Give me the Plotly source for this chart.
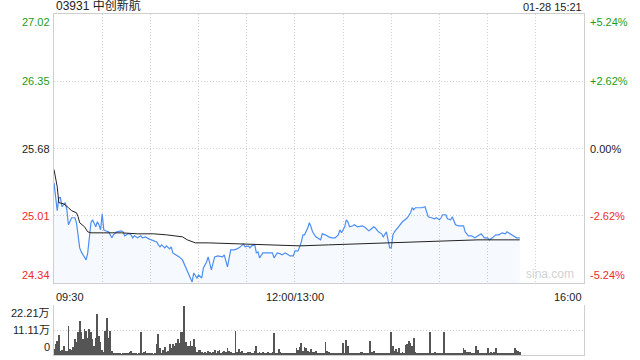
import plotly.graph_objects as go

# ---------------- data ----------------
title_text = "03931 中创新航"
date_text = "01-28 15:21"
prev_close = 25.68

price_ticks = [27.02, 26.35, 25.68, 25.01, 24.34]
pct_ticks = ["+5.24%", "+2.62%", "0.00%", "-2.62%", "-5.24%"]
vol_ticks = [22.21, 11.11, 0]
vol_tick_text = ["22.21万", "11.11万", "0"]
time_labels = ["09:30", "12:00/13:00", "16:00"]
time_label_pos = [0, 150, 330]   # trading minutes since 09:30

# trading minutes since 09:30 (lunch break removed) and last price
price_t = [0, 2, 3, 4, 5, 6, 7, 8, 9, 11,
           13, 14, 15, 16, 17, 20, 21, 22, 23, 24,
           25, 26, 27, 28, 29, 30, 31, 32, 34, 36,
           37, 39, 42, 43, 44, 46, 47, 48, 49, 50,
           52, 54, 55, 57, 59, 61, 64, 65, 66, 67,
           69, 70, 72, 73, 74, 75, 76, 78, 80, 83,
           85, 86, 87, 89, 90, 92, 93, 95, 96, 97,
           98, 100, 102, 105, 106, 108, 109, 110, 112, 114,
           116, 118, 119, 121, 122, 123, 125, 126, 127, 128,
           130, 133, 136, 137, 139, 141, 142, 144, 147, 149,
           150, 152, 154, 155, 156, 158, 159, 160, 161, 163,
           164, 166, 167, 169, 171, 173, 175, 177, 178, 179,
           181, 182, 183, 184, 186, 187, 189, 192, 194, 196,
           197, 199, 200, 202, 204, 205, 207, 208, 209, 210,
           211, 212, 214, 215, 216, 217, 220, 222, 223, 224,
           225, 227, 229, 231, 232, 233, 235, 237, 238, 240,
           241, 242, 244, 245, 247, 248, 250, 252, 255, 256,
           258, 260, 262, 264, 266, 268, 270, 271, 273, 275,
           277, 279, 281, 282, 284, 286, 288, 290]
price_v = [25.34, 25.06, 25.19, 25.19, 25.10, 25.12, 25.14, 25.07, 24.92, 24.99,
           24.99, 24.94, 24.80, 24.69, 24.65, 24.57, 24.64, 24.77, 24.94, 24.97,
           24.94, 24.90, 24.95, 24.92, 24.87, 25.03, 24.87, 24.86, 24.85, 24.79,
           24.82, 24.85, 24.86, 24.85, 24.81, 24.83, 24.83, 24.82, 24.79, 24.81,
           24.79, 24.81, 24.79, 24.80, 24.78, 24.77, 24.75, 24.72, 24.70, 24.72,
           24.69, 24.71, 24.68, 24.70, 24.64, 24.63, 24.62, 24.60, 24.57, 24.45,
           24.39, 24.35, 24.44, 24.39, 24.42, 24.39, 24.49, 24.55, 24.60, 24.54,
           24.47, 24.60, 24.61, 24.60, 24.62, 24.50, 24.57, 24.67, 24.67, 24.68,
           24.70, 24.73, 24.70, 24.71, 24.69, 24.71, 24.72, 24.64, 24.65, 24.59,
           24.64, 24.64, 24.64, 24.59, 24.64, 24.63, 24.62, 24.64, 24.61, 24.61,
           24.66, 24.66, 24.75, 24.82, 24.82, 24.89, 24.94, 24.90, 24.85, 24.80,
           24.79, 24.77, 24.83, 24.82, 24.80, 24.79, 24.79, 24.82, 24.87, 24.84,
           24.90, 24.97, 24.95, 24.90, 24.91, 24.92, 24.90, 24.91, 24.89, 24.86,
           24.87, 24.90, 24.89, 24.85, 24.83, 24.80, 24.85, 24.77, 24.69, 24.69,
           24.82, 24.85, 24.89, 24.92, 24.94, 24.95, 24.99, 25.04, 25.09, 25.07,
           25.09, 25.09, 25.09, 25.10, 25.04, 25.00, 24.99, 24.98, 24.99, 24.97,
           24.99, 25.02, 25.02, 24.98, 24.97, 25.00, 24.92, 24.91, 24.91, 24.85,
           24.81, 24.81, 24.79, 24.81, 24.83, 24.79, 24.79, 24.77, 24.79, 24.82,
           24.82, 24.84, 24.83, 24.85, 24.83, 24.81, 24.79, 24.79]

# average price line
avg_t = [0, 2, 3, 6, 9, 11, 14, 15, 16, 19, 21, 23, 31, 42, 52, 62,
         70, 78, 80, 83, 88, 96, 117, 137, 153, 171, 192, 213, 225, 242, 264, 290]
avg_v = [25.47, 25.30, 25.14, 25.13, 25.09, 25.06, 25.04, 25.00, 24.94, 24.90,
         24.85, 24.84, 24.84, 24.84, 24.83, 24.83, 24.82, 24.80, 24.80, 24.77,
         24.74, 24.74, 24.73, 24.72, 24.71, 24.72, 24.73, 24.74, 24.75, 24.76,
         24.77, 24.77]

# per-minute volume (万)
volume = [2.7, 4.9, 6.4, 9.0, 1.9, 2.2, 4.1, 1.6, 1.9, 13.0,
          2.7, 2.2, 3.4, 7.1, 5.6, 10.1, 15.2, 10.1, 7.1, 11.5,
          10.8, 7.8, 11.5, 10.1, 7.1, 4.1, 7.8, 18.2, 8.6, 5.6,
          2.2, 1.2, 10.8, 16.7, 7.8, 10.8, 1.9, 0.9, 0.6, 0.8,
          0.5, 1.0, 0.4, 0.7, 0.9, 0.5, 0.6, 1.2, 1.9, 0.8,
          0.5, 0.9, 0.4, 0.6, 10.1, 0.8, 1.5, 1.9, 0.6, 0.9,
          0.5, 0.9, 0.4, 0.8, 4.9, 9.3, 3.1, 1.0, 2.2, 3.4,
          1.2, 1.9, 4.9, 3.1, 4.9, 4.1, 5.2, 7.1, 5.2, 10.1,
          10.1, 21.9, 5.6, 4.1, 4.1, 6.4, 4.1, 7.1, 3.4, 1.5,
          2.2, 2.2, 1.2, 0.8, 1.5, 0.8, 1.9, 1.2, 1.0, 1.5,
          2.2, 0.8, 1.8, 2.4, 0.6, 1.5, 1.9, 1.2, 3.1, 2.0,
          1.5, 0.9, 0.6, 10.8, 1.2, 2.7, 1.2, 1.8, 0.9, 0.6,
          0.8, 1.2, 1.5, 0.6, 1.0, 1.9, 4.1, 0.8, 1.2, 0.6,
          1.5, 0.7, 0.9, 1.2, 0.6, 0.8, 1.2, 9.6, 0.8, 0.6,
          2.7, 1.5, 1.0, 0.6, 0.7, 0.5, 0.6, 0.8, 0.5, 0.7,
          0.6, 3.1, 2.2, 3.4, 5.2, 2.0, 3.7, 3.1, 2.0, 1.5,
          2.7, 1.5, 1.2, 1.8, 1.0, 0.6, 0.8, 0.9, 0.7, 5.9,
          2.0, 1.5, 0.6, 0.5, 0.6, 0.7, 0.5, 0.6, 0.6, 0.5,
          5.2, 1.0, 6.7, 4.1, 1.0, 0.8, 1.0, 0.9, 0.6, 0.5,
          0.6, 1.5, 1.2, 0.6, 0.5, 0.5, 0.9, 6.4, 1.2, 1.8,
          0.6, 0.5, 0.5, 0.6, 0.5, 0.6, 0.5, 0.5, 0.5, 0.6,
          10.4, 4.1, 1.8, 2.7, 1.5, 3.1, 0.6, 1.2, 0.8, 4.6,
          4.9, 6.4, 5.2, 4.1, 7.8, 1.2, 1.0, 1.0, 0.9, 1.0,
          0.7, 0.6, 0.8, 0.5, 10.4, 0.6, 0.9, 1.5, 0.6, 0.5,
          0.6, 0.5, 0.5, 10.1, 0.6, 0.5, 0.9, 1.0, 0.6, 0.5,
          0.6, 0.5, 0.8, 0.6, 0.5, 3.1, 2.2, 1.5, 1.2, 1.5,
          0.6, 0.5, 0.5, 4.1, 2.2, 0.6, 0.5, 0.6, 0.8, 0.6,
          3.1, 0.9, 1.5, 0.7, 1.2, 3.1, 0.6, 1.0, 0.8, 0.9,
          0.6, 0.8, 0.5, 0.6, 0.7, 0.5, 0.6, 3.1, 2.2, 1.9,
          1.2]
volume_t = list(range(len(volume)))

# ---------------- styling ----------------
GREEN = "#1a9e1a"
RED = "#ee2b2b"
DARK = "#222222"
GRID = "#cfcfcf"
GRIDDASH = "1px,2px"
FONT = "Liberation Sans, Arial, Noto Sans CJK SC, sans-serif"


def tick_color(v):
    if abs(v - prev_close) < 1e-6:
        return DARK
    return GREEN if v > prev_close else RED


fig = go.Figure()

fig.add_trace(go.Scatter(
    x=price_t, y=price_v, mode="lines",
    line=dict(color="#4d8ef2", width=1.2),
    fill="tozeroy", fillcolor="rgba(80,140,235,0.05)",
    xaxis="x", yaxis="y", hoverinfo="skip", showlegend=False))

fig.add_trace(go.Scatter(
    x=avg_t, y=avg_v, mode="lines",
    line=dict(color="#222222", width=1),
    xaxis="x", yaxis="y", hoverinfo="skip", showlegend=False))

fig.add_trace(go.Bar(
    x=volume_t, y=volume, width=0.5,
    marker=dict(color="#555555", line=dict(width=0)),
    xaxis="x2", yaxis="y2", hoverinfo="skip", showlegend=False))

annotations = []
n = len(price_ticks)
for i, (v, pt) in enumerate(zip(price_ticks, pct_ticks)):
    anc = "top" if i == 0 else ("bottom" if i == n - 1 else "middle")
    c = tick_color(v)
    annotations.append(dict(text=f"{v:.2f}", xref="paper", x=0, xanchor="right",
                            xshift=-2, yref="y", y=v, yanchor=anc,
                            showarrow=False, font=dict(size=11, color=c, family=FONT)))
    annotations.append(dict(text=pt, xref="paper", x=1, xanchor="left",
                            xshift=4, yref="y", y=v, yanchor=anc,
                            showarrow=False, font=dict(size=11, color=c, family=FONT)))

for i, (v, t) in enumerate(zip(vol_ticks, vol_tick_text)):
    anc = "top" if i == 0 else ("bottom" if i == len(vol_ticks) - 1 else "middle")
    annotations.append(dict(text=t, xref="paper", x=0, xanchor="right",
                            xshift=-2, yref="y2", y=v, yanchor=anc,
                            showarrow=False, font=dict(size=11, color=DARK, family=FONT)))

xanchors = ["left", "center", "right"]
for lbl, pos, xa in zip(time_labels, time_label_pos, xanchors):
    annotations.append(dict(text=lbl, xref="x", x=pos, xanchor=xa,
                            yref="paper", y=0.170, yanchor="middle",
                            showarrow=False, font=dict(size=11, color=DARK, family=FONT)))

annotations.append(dict(text=title_text, xref="paper", x=0, xanchor="left",
                        yref="paper", y=1.0, yanchor="bottom", yshift=-1,
                        showarrow=False, font=dict(size=12, color=DARK, family=FONT)))
annotations.append(dict(text=date_text, xref="paper", x=1, xanchor="right",
                        yref="paper", y=1.0, yanchor="bottom", yshift=-1,
                        showarrow=False, font=dict(size=11, color=DARK, family=FONT)))
annotations.append(dict(text="sina.com", xref="paper", x=0.985, xanchor="right",
                        yref="y", y=24.34, yanchor="bottom",
                        showarrow=False, font=dict(size=12, color="#d2d2d2", family=FONT)))

grid_x = [30 * k for k in range(1, 11)]

fig.update_layout(
    width=640, height=360,
    margin=dict(l=54, r=56, t=14, b=5),
    paper_bgcolor="white", plot_bgcolor="white",
    font=dict(family=FONT),
    bargap=0,
    annotations=annotations,
    xaxis=dict(domain=[0, 1], range=[0, 330], anchor="y",
               tickvals=grid_x, showticklabels=False, ticks="",
               showgrid=True, gridcolor=GRID, griddash=GRIDDASH, gridwidth=1,
               showline=True, mirror=True, linecolor=GRID, linewidth=1,
               zeroline=False, fixedrange=True),
    yaxis=dict(domain=[0.2111, 1], range=[24.34, 27.02], anchor="x",
               tickvals=price_ticks, showticklabels=False, ticks="",
               showgrid=True, gridcolor=GRID, griddash=GRIDDASH, gridwidth=1,
               showline=True, mirror=True, linecolor=GRID, linewidth=1,
               zeroline=False, fixedrange=True),
    xaxis2=dict(domain=[0, 1], range=[0, 330], anchor="y2",
                showticklabels=False, ticks="", showgrid=False,
                showline=True, mirror=False, linecolor=GRID, linewidth=1,
                zeroline=False, fixedrange=True),
    yaxis2=dict(domain=[0, 0.1466], range=[0, 22.3], anchor="x2",
                tickvals=[11.11, 22.21], showticklabels=False, ticks="",
                showgrid=True, gridcolor=GRID, griddash=GRIDDASH, gridwidth=1,
                showline=True, mirror=True, linecolor=GRID, linewidth=1,
                zeroline=False, fixedrange=True),
)

fig.write_html("out.html", config={"displayModeBar": False})
